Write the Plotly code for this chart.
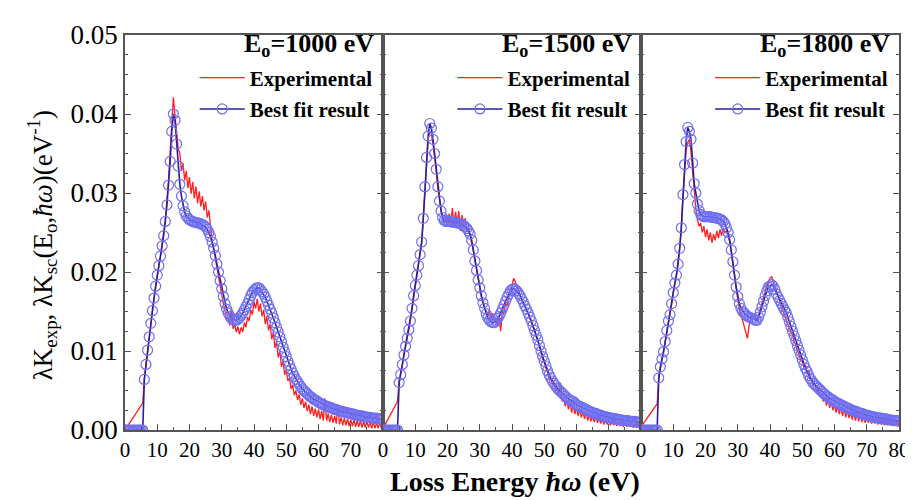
import plotly.graph_objects as go

# ---------------- data (0.5 eV grid, 0 ... 80 eV) ----------------
energy = [i * 0.5 for i in range(161)]

panel_labels = ["E<sub>o</sub>=1000 eV", "E<sub>o</sub>=1500 eV", "E<sub>o</sub>=1800 eV"]

x_tick_vals_p12 = [0, 10, 20, 30, 40, 50, 60, 70]
x_tick_vals_p3 = [0, 10, 20, 30, 40, 50, 60, 70, 80]
y_tick_vals = [0.00, 0.01, 0.02, 0.03, 0.04, 0.05]
y_tick_text = ["0.00", "0.01", "0.02", "0.03", "0.04", "0.05"]

# ---- E0 = 1000 eV ----
fit_1000 = [
    0, 0, 0, 0, 0, 0, 0, 0, 0, 0,
    0, 0, 0.0064, 0.0083, 0.0101, 0.0118, 0.0135, 0.0151, 0.0167, 0.0182,
    0.0196, 0.0208, 0.0220, 0.0233, 0.0246, 0.0264, 0.0285, 0.0310, 0.0340, 0.0378,
    0.0400, 0.0392, 0.0362, 0.0334, 0.0311, 0.0296, 0.0284, 0.0276, 0.0271, 0.0268,
    0.0266, 0.0265, 0.0264, 0.0263, 0.0263, 0.0262, 0.0262, 0.0261, 0.0260, 0.0259,
    0.0257, 0.0254, 0.0250, 0.0245, 0.0238, 0.0230, 0.0221, 0.0210, 0.0200, 0.0189,
    0.0179, 0.0169, 0.0160, 0.0153, 0.0148, 0.0144, 0.0141, 0.0140, 0.0139, 0.0139,
    0.0140, 0.0142, 0.0145, 0.0148, 0.0152, 0.0156, 0.0160, 0.0165, 0.0170, 0.0174,
    0.0177, 0.0179, 0.0180, 0.0180, 0.0178, 0.0175, 0.0172, 0.0168, 0.0163, 0.0158,
    0.0153, 0.0148, 0.0142, 0.0136, 0.0130, 0.0124, 0.0118, 0.0112, 0.0105, 0.0099,
    0.0093, 0.0087, 0.0082, 0.0077, 0.0072, 0.0068, 0.0064, 0.0061, 0.0058, 0.0055,
    0.0052, 0.0050, 0.0048, 0.0046, 0.0044, 0.0042, 0.0041, 0.0039, 0.0038, 0.0037,
    0.0035, 0.0034, 0.0033, 0.0032, 0.0031, 0.0030, 0.0029, 0.0029, 0.0028, 0.0027,
    0.0026, 0.0026, 0.0025, 0.0024, 0.0024, 0.0023, 0.0023, 0.0022, 0.0022, 0.0021,
    0.0021, 0.0020, 0.0020, 0.0019, 0.0019, 0.0018, 0.0018, 0.0018, 0.0017, 0.0017,
    0.0016, 0.0016, 0.0016, 0.0015, 0.0015, 0.0015, 0.0015, 0.0014, 0.0014, 0.0014,
    0.0014,
]
exp_1000 = [
    0.0000, 0.0003, 0.0006, 0.0009, 0.0012, 0.0015, 0.0018, 0.0021, 0.0024, 0.0027,
    0.0030, 0.0034, 0.0066, 0.0084, 0.0100, 0.0119, 0.0134, 0.0152, 0.0166, 0.0183,
    0.0195, 0.0209, 0.0219, 0.0234, 0.0245, 0.0266, 0.0288, 0.0315, 0.0352, 0.0395,
    0.0421, 0.0398, 0.0372, 0.0356, 0.0350, 0.0328, 0.0338, 0.0316, 0.0328, 0.0306,
    0.0320, 0.0299, 0.0314, 0.0293, 0.0308, 0.0287, 0.0302, 0.0283, 0.0296, 0.0278,
    0.0289, 0.0269, 0.0278, 0.0256, 0.0240, 0.0229, 0.0217, 0.0204, 0.0194, 0.0180,
    0.0172, 0.0160, 0.0151, 0.0140, 0.0143, 0.0132, 0.0156, 0.0128, 0.0134, 0.0124,
    0.0131, 0.0121, 0.0130, 0.0124, 0.0136, 0.0130, 0.0143, 0.0138, 0.0152, 0.0146,
    0.0162, 0.0154, 0.0166, 0.0150, 0.0160, 0.0144, 0.0152, 0.0134, 0.0144, 0.0126,
    0.0134, 0.0115, 0.0124, 0.0104, 0.0112, 0.0092, 0.0100, 0.0080, 0.0088, 0.0070,
    0.0076, 0.0062, 0.0066, 0.0052, 0.0057, 0.0044, 0.0050, 0.0038, 0.0045, 0.0032,
    0.0040, 0.0028, 0.0036, 0.0024, 0.0032, 0.0020, 0.0030, 0.0018, 0.0027, 0.0016,
    0.0026, 0.0014, 0.0024, 0.0012, 0.0040, 0.0012, 0.0021, 0.0010, 0.0019, 0.0009,
    0.0018, 0.0008, 0.0032, 0.0007, 0.0016, 0.0006, 0.0015, 0.0006, 0.0014, 0.0005,
    0.0013, 0.0005, 0.0013, 0.0004, 0.0012, 0.0004, 0.0012, 0.0003, 0.0011, 0.0003,
    0.0011, 0.0003, 0.0010, 0.0002, 0.0010, 0.0002, 0.0009, 0.0002, 0.0009, 0.0002,
    0.0008,
]

# ---- E0 = 1500 eV ----
fit_1500 = [
    0, 0, 0, 0, 0, 0, 0, 0, 0, 0,
    0.0060, 0.0070, 0.0083, 0.0095, 0.0106, 0.0116, 0.0127, 0.0138, 0.0154, 0.0170,
    0.0183, 0.0196, 0.0208, 0.0222, 0.0238, 0.0268, 0.0308, 0.0345, 0.0372, 0.0388,
    0.0382, 0.0368, 0.0350, 0.0330, 0.0308, 0.0290, 0.0277, 0.0269, 0.0265, 0.0264,
    0.0264, 0.0264, 0.0264, 0.0263, 0.0263, 0.0263, 0.0262, 0.0262, 0.0261, 0.0260,
    0.0259, 0.0257, 0.0255, 0.0252, 0.0248, 0.0240, 0.0228, 0.0214, 0.0202, 0.0190,
    0.0180, 0.0170, 0.0161, 0.0154, 0.0147, 0.0142, 0.0139, 0.0137, 0.0136, 0.0136,
    0.0138, 0.0141, 0.0144, 0.0148, 0.0153, 0.0158, 0.0163, 0.0168, 0.0172, 0.0176,
    0.0178, 0.0179, 0.0178, 0.0176, 0.0173, 0.0170, 0.0166, 0.0162, 0.0157, 0.0153,
    0.0148, 0.0143, 0.0138, 0.0132, 0.0126, 0.0120, 0.0114, 0.0107, 0.0100, 0.0093,
    0.0087, 0.0081, 0.0075, 0.0070, 0.0066, 0.0062, 0.0059, 0.0056, 0.0053, 0.0051,
    0.0049, 0.0047, 0.0045, 0.0043, 0.0041, 0.0039, 0.0038, 0.0037, 0.0036, 0.0034,
    0.0032, 0.0031, 0.0030, 0.0029, 0.0028, 0.0027, 0.0026, 0.0025, 0.0024, 0.0023,
    0.0022, 0.0021, 0.0021, 0.0020, 0.0019, 0.0019, 0.0018, 0.0017, 0.0017, 0.0016,
    0.0016, 0.0015, 0.0015, 0.0014, 0.0014, 0.0014, 0.0013, 0.0013, 0.0013, 0.0012,
    0.0012, 0.0012, 0.0012, 0.0011, 0.0011, 0.0011, 0.0011, 0.0010, 0.0010, 0.0010,
    0.0010,
]
exp_1500 = [
    0.0002, 0.0006, 0.0010, 0.0014, 0.0018, 0.0021, 0.0025, 0.0029, 0.0032, 0.0036,
    0.0062, 0.0071, 0.0082, 0.0096, 0.0105, 0.0117, 0.0126, 0.0139, 0.0153, 0.0171,
    0.0182, 0.0197, 0.0207, 0.0223, 0.0237, 0.0269, 0.0306, 0.0342, 0.0368, 0.0378,
    0.0376, 0.0362, 0.0346, 0.0328, 0.0306, 0.0289, 0.0278, 0.0270, 0.0262, 0.0272,
    0.0258, 0.0274, 0.0260, 0.0281, 0.0259, 0.0276, 0.0262, 0.0277, 0.0252, 0.0272,
    0.0260, 0.0268, 0.0253, 0.0256, 0.0247, 0.0238, 0.0227, 0.0214, 0.0201, 0.0190,
    0.0181, 0.0169, 0.0162, 0.0153, 0.0149, 0.0144, 0.0150, 0.0141, 0.0148, 0.0137,
    0.0140, 0.0131, 0.0142, 0.0125, 0.0150, 0.0148, 0.0160, 0.0158, 0.0170, 0.0172,
    0.0185, 0.0192, 0.0188, 0.0182, 0.0176, 0.0170, 0.0166, 0.0160, 0.0157, 0.0151,
    0.0148, 0.0141, 0.0138, 0.0130, 0.0126, 0.0118, 0.0114, 0.0105, 0.0100, 0.0090,
    0.0086, 0.0078, 0.0074, 0.0066, 0.0065, 0.0058, 0.0058, 0.0050, 0.0052, 0.0044,
    0.0060, 0.0036, 0.0042, 0.0030, 0.0038, 0.0026, 0.0035, 0.0022, 0.0032, 0.0020,
    0.0029, 0.0018, 0.0026, 0.0016, 0.0024, 0.0014, 0.0022, 0.0012, 0.0020, 0.0011,
    0.0018, 0.0010, 0.0017, 0.0009, 0.0016, 0.0008, 0.0015, 0.0007, 0.0014, 0.0007,
    0.0013, 0.0006, 0.0012, 0.0006, 0.0012, 0.0005, 0.0011, 0.0005, 0.0010, 0.0004,
    0.0010, 0.0004, 0.0009, 0.0004, 0.0009, 0.0003, 0.0008, 0.0003, 0.0008, 0.0003,
    0.0007,
]

# ---- E0 = 1800 eV ----
fit_1800 = [
    0, 0, 0, 0, 0, 0, 0, 0, 0, 0,
    0, 0.0066, 0.0080, 0.0090, 0.0099, 0.0112, 0.0126, 0.0138, 0.0146, 0.0160,
    0.0174, 0.0186, 0.0196, 0.0210, 0.0230, 0.0256, 0.0298, 0.0336, 0.0365, 0.0383,
    0.0378, 0.0368, 0.0338, 0.0312, 0.0300, 0.0286, 0.0278, 0.0273, 0.0271, 0.0270,
    0.0270, 0.0270, 0.0270, 0.0270, 0.0269, 0.0269, 0.0269, 0.0268, 0.0268, 0.0267,
    0.0266, 0.0264, 0.0261, 0.0256, 0.0250, 0.0241, 0.0228, 0.0213, 0.0196, 0.0181,
    0.0169, 0.0160, 0.0154, 0.0150, 0.0148, 0.0146, 0.0144, 0.0143, 0.0142, 0.0141,
    0.0140, 0.0139, 0.0139, 0.0143, 0.0149, 0.0156, 0.0163, 0.0170, 0.0176, 0.0181,
    0.0182, 0.0184, 0.0182, 0.0178, 0.0172, 0.0168, 0.0164, 0.0160, 0.0156, 0.0152,
    0.0149, 0.0143, 0.0137, 0.0131, 0.0125, 0.0119, 0.0113, 0.0107, 0.0101, 0.0095,
    0.0089, 0.0083, 0.0078, 0.0074, 0.0069, 0.0065, 0.0062, 0.0059, 0.0057, 0.0055,
    0.0053, 0.0051, 0.0049, 0.0047, 0.0045, 0.0043, 0.0042, 0.0040, 0.0039, 0.0038,
    0.0036, 0.0035, 0.0034, 0.0033, 0.0032, 0.0031, 0.0030, 0.0029, 0.0028, 0.0027,
    0.0026, 0.0025, 0.0024, 0.0024, 0.0023, 0.0022, 0.0021, 0.0021, 0.0020, 0.0019,
    0.0019, 0.0018, 0.0018, 0.0017, 0.0017, 0.0016, 0.0016, 0.0015, 0.0015, 0.0015,
    0.0014, 0.0014, 0.0014, 0.0013, 0.0013, 0.0013, 0.0012, 0.0012, 0.0012, 0.0012,
    0.0011,
]
exp_1800 = [
    0.0004, 0.0007, 0.0010, 0.0013, 0.0016, 0.0018, 0.0021, 0.0024, 0.0027, 0.0030,
    0.0033, 0.0065, 0.0081, 0.0089, 0.0100, 0.0111, 0.0127, 0.0137, 0.0147, 0.0159,
    0.0175, 0.0185, 0.0197, 0.0209, 0.0231, 0.0255, 0.0296, 0.0332, 0.0355, 0.0364,
    0.0368, 0.0352, 0.0330, 0.0298, 0.0280, 0.0266, 0.0258, 0.0262, 0.0250, 0.0258,
    0.0244, 0.0254, 0.0240, 0.0250, 0.0237, 0.0248, 0.0240, 0.0252, 0.0243, 0.0254,
    0.0246, 0.0256, 0.0250, 0.0252, 0.0246, 0.0238, 0.0226, 0.0210, 0.0194, 0.0178,
    0.0165, 0.0154, 0.0146, 0.0137, 0.0130, 0.0124, 0.0116, 0.0132, 0.0140, 0.0146,
    0.0145, 0.0141, 0.0140, 0.0146, 0.0152, 0.0160, 0.0168, 0.0175, 0.0182, 0.0188,
    0.0192, 0.0194, 0.0189, 0.0182, 0.0176, 0.0170, 0.0164, 0.0158, 0.0152, 0.0145,
    0.0141, 0.0134, 0.0130, 0.0123, 0.0120, 0.0111, 0.0108, 0.0100, 0.0096, 0.0088,
    0.0087, 0.0080, 0.0082, 0.0072, 0.0076, 0.0064, 0.0066, 0.0056, 0.0058, 0.0048,
    0.0052, 0.0042, 0.0046, 0.0036, 0.0042, 0.0031, 0.0039, 0.0028, 0.0036, 0.0025,
    0.0033, 0.0022, 0.0031, 0.0020, 0.0029, 0.0018, 0.0027, 0.0016, 0.0025, 0.0015,
    0.0024, 0.0013, 0.0022, 0.0012, 0.0021, 0.0011, 0.0020, 0.0010, 0.0019, 0.0009,
    0.0018, 0.0009, 0.0017, 0.0008, 0.0016, 0.0008, 0.0015, 0.0007, 0.0015, 0.0007,
    0.0014, 0.0006, 0.0014, 0.0006, 0.0013, 0.0006, 0.0013, 0.0005, 0.0012, 0.0005,
    0.0011,
]

fits = [fit_1000, fit_1500, fit_1800]
exps = [exp_1000, exp_1500, exp_1800]

# ---------------- styling ----------------
SERIF = "Liberation Serif"
RED = "#ff1f1f"
LINE_BLUE = "#2a1c9a"
CIRCLE_BLUE = "#6f6ff2"
AXIS_COLOR = "#555555"

fig = go.Figure()
legend_ids = ["legend", "legend2", "legend3"]
for i in range(3):
    ax = "" if i == 0 else str(i + 1)
    fig.add_trace(go.Scatter(
        x=energy, y=exps[i], mode="lines", name="Experimental",
        line=dict(color=RED, width=1.3),
        xaxis="x" + ax, yaxis="y" + ax, legend=legend_ids[i],
        legendgroup="exp%d" % i,
    ))
    fig.add_trace(go.Scatter(
        x=energy, y=fits[i], mode="lines+markers", name="Best fit result",
        line=dict(color=LINE_BLUE, width=1.6),
        marker=dict(symbol="circle-open", size=10, color=CIRCLE_BLUE,
                    line=dict(width=1.2, color=CIRCLE_BLUE)),
        xaxis="x" + ax, yaxis="y" + ax, legend=legend_ids[i],
        legendgroup="fit%d" % i,
    ))

x_tick_font = dict(family=SERIF, size=21, color="black")
y_tick_font = dict(family=SERIF, size=27, color="black")
third = 1.0 / 3.0
domains = [[0, third], [third, 2 * third], [2 * third, 1]]

layout = dict(
    width=913, height=500,
    margin=dict(l=117, r=15, t=17, b=78),
    paper_bgcolor="white", plot_bgcolor="white",
    font=dict(family=SERIF, color="black"),
)
for i in range(3):
    ax = "" if i == 0 else str(i + 1)
    tv = x_tick_vals_p3 if i == 2 else x_tick_vals_p12
    layout["xaxis" + ax] = dict(
        domain=domains[i], range=[0, 80], anchor="y" + ax,
        tickvals=tv, ticktext=[str(v) for v in tv],
        ticks="inside", ticklen=6, tickwidth=1.2, tickcolor=AXIS_COLOR,
        minor=dict(ticks="inside", dtick=5, ticklen=3, tickcolor=AXIS_COLOR, showgrid=False),
        showline=True, linecolor=AXIS_COLOR, linewidth=1.5, mirror=True,
        showgrid=False, zeroline=False, tickfont=x_tick_font,
    )
    layout["yaxis" + ax] = dict(
        domain=[0, 1], range=[0, 0.05], anchor="x" + ax,
        tickvals=y_tick_vals, ticktext=y_tick_text, showticklabels=(i == 0),
        ticks="inside", ticklen=6, tickwidth=1.2, tickcolor=AXIS_COLOR,
        minor=dict(ticks="inside", dtick=0.0025, ticklen=3, tickcolor=AXIS_COLOR, showgrid=False),
        showline=True, linecolor=AXIS_COLOR, linewidth=1.5, mirror="ticks",
        showgrid=False, zeroline=False, tickfont=y_tick_font,
    )

# legends, one per panel
legend_right = [0.3265, 0.6595, 0.9925]
for i in range(3):
    layout[legend_ids[i]] = dict(
        x=legend_right[i], y=0.943, xanchor="right", yanchor="top",
        bgcolor="rgba(0,0,0,0)", borderwidth=0,
        font=dict(family=SERIF, size=21, color="black", weight="bold"),
        itemwidth=45, tracegroupgap=1,
    )

annotations = []
for i in range(3):
    annotations.append(dict(
        xref="paper", yref="paper", x=legend_right[i] - 0.002, y=1.02,
        xanchor="right", yanchor="top", showarrow=False,
        text="<b>" + panel_labels[i] + "</b>",
        font=dict(family=SERIF, size=26, color="black"),
    ))
annotations.append(dict(
    xref="paper", yref="paper", x=0.5045, y=-0.13, xanchor="center", yanchor="middle",
    showarrow=False, text="<b>Loss Energy <i>ħω</i> (eV)</b>",
    font=dict(family=SERIF, size=28, color="black"),
))
annotations.append(dict(
    xref="paper", yref="paper", x=-0.1076, y=0.467, xanchor="center", yanchor="middle",
    textangle=-90, showarrow=False,
    text="λK<sub>exp</sub>, λK<sub>sc</sub>(E<sub>o</sub>,<i>ħω</i>)(eV<sup>-1</sup>)",
    font=dict(family=SERIF, size=27, color="black"),
))
layout["annotations"] = annotations

fig.update_layout(**layout)
fig.write_html("out.html")
